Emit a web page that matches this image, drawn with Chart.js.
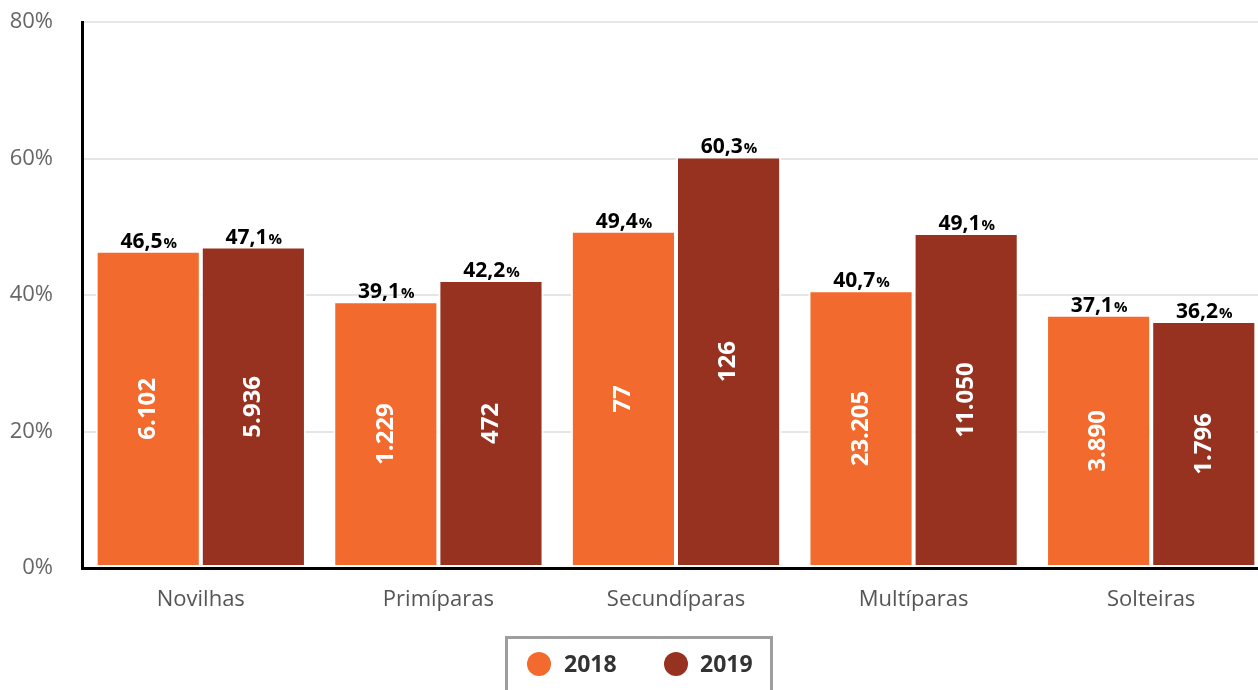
<!DOCTYPE html>
<html>
<head>
<meta charset="utf-8">
<script src="https://cdn.jsdelivr.net/npm/chart.js@4.4.1/dist/chart.umd.min.js"></script>
<style>
  html, body { margin: 0; padding: 0; background: #fff; overflow: hidden; }
  #wrap { width: 1270px; height: 690px; position: relative; }
</style>
</head>
<body>
<div id="wrap"><canvas id="c" width="1270" height="690"></canvas></div>
<script>
const categories = ['Novilhas', 'Primíparas', 'Secundíparas', 'Multíparas', 'Solteiras'];
const seriesNames = ['2018', '2019'];
const pct2018 = [46.5, 39.1, 49.4, 40.7, 37.1];
const pct2019 = [47.1, 42.2, 60.3, 49.1, 36.2];
const count2018 = ['6.102', '1.229', '77', '23.205', '3.890'];
const count2019 = ['5.936', '472', '126', '11.050', '1.796'];
const yTicks = [0, 20, 40, 60, 80];

const COLORS = ['#f26a2d', '#983220'];
const FONT = "'Open Sans', 'Noto Sans', sans-serif";
const counts = [count2018, count2019];

const labelsPlugin = {
  id: 'labelsPlugin',
  afterDatasetsDraw(chart) {
    const ctx = chart.ctx;
    chart.data.datasets.forEach((ds, di) => {
      const meta = chart.getDatasetMeta(di);
      meta.data.forEach((bar, i) => {
        const v = ds.data[i];
        const num = v.toFixed(1).replace('.', ',');
        ctx.save();
        ctx.fillStyle = '#000';
        ctx.textBaseline = 'alphabetic';
        ctx.font = 'bold 21px ' + FONT;
        const w1 = ctx.measureText(num).width;
        ctx.font = 'bold 15px ' + FONT;
        const w2 = ctx.measureText('%').width;
        const start = bar.x - (w1 + w2) / 2;
        ctx.textAlign = 'left';
        ctx.font = 'bold 21px ' + FONT;
        ctx.fillText(num, start, bar.y - 3);
        ctx.font = 'bold 15px ' + FONT;
        ctx.fillText('%', start + w1 + 1, bar.y - 3);
        const mid = (bar.y + bar.base) / 2;
        ctx.translate(bar.x, mid);
        ctx.rotate(-Math.PI / 2);
        ctx.fillStyle = '#fff';
        ctx.font = 'bold 24px ' + FONT;
        ctx.textAlign = 'center';
        ctx.textBaseline = 'middle';
        ctx.fillText(counts[di][i], 0, 0);
        ctx.restore();
      });
    });
    ctx.save();
    ctx.strokeStyle = '#9e9e9e';
    ctx.lineWidth = 3;
    ctx.strokeRect(506.5, 637.5, 265, 70);
    const items = [{x: 539, tx: 564}, {x: 676, tx: 700}];
    items.forEach((it, k) => {
      ctx.beginPath();
      ctx.arc(it.x, 664, 12, 0, Math.PI * 2);
      ctx.fillStyle = COLORS[k];
      ctx.fill();
      ctx.fillStyle = '#333';
      ctx.font = 'bold 23px ' + FONT;
      ctx.textAlign = 'left';
      ctx.textBaseline = 'middle';
      ctx.fillText(seriesNames[k], it.tx, 665);
    });
    ctx.restore();
  }
};

new Chart(document.getElementById('c'), {
  type: 'bar',
  data: {
    labels: categories,
    datasets: [
      { label: seriesNames[0], data: pct2018, backgroundColor: COLORS[0], borderColor: '#fff', borderWidth: 2, borderSkipped: false },
      { label: seriesNames[1], data: pct2019, backgroundColor: COLORS[1], borderColor: '#fff', borderWidth: 2, borderSkipped: false }
    ]
  },
  options: {
    responsive: false,
    animation: false,
    devicePixelRatio: 1,
    layout: { padding: { top: 22, bottom: 78, left: 0, right: 0 } },
    plugins: { legend: { display: false }, tooltip: { enabled: false } },
    datasets: { bar: { categoryPercentage: 0.885, barPercentage: 1 } },
    scales: {
      x: {
        afterFit: s => { s.height = 44; s.paddingLeft = 0; s.paddingRight = 0; },
        grid: { display: false, drawTicks: false },
        border: { display: true, color: '#000', width: 3 },
        ticks: { color: '#555', font: { family: FONT, size: 22 }, padding: 19 }
      },
      y: {
        min: 0, max: 80,
        afterFit: s => { s.width = 82; s.paddingTop = 0; s.paddingBottom = 0; },
        afterBuildTicks: s => { s.ticks = yTicks.map(v => ({ value: v })); },
        grid: { color: '#e6e6e6', lineWidth: 2, drawTicks: false },
        border: { display: true, color: '#000', width: 3 },
        ticks: { color: '#666', font: { family: FONT, size: 22 }, padding: 29, callback: v => v + '%' }
      }
    }
  },
  plugins: [labelsPlugin]
});
</script>
</body>
</html>
